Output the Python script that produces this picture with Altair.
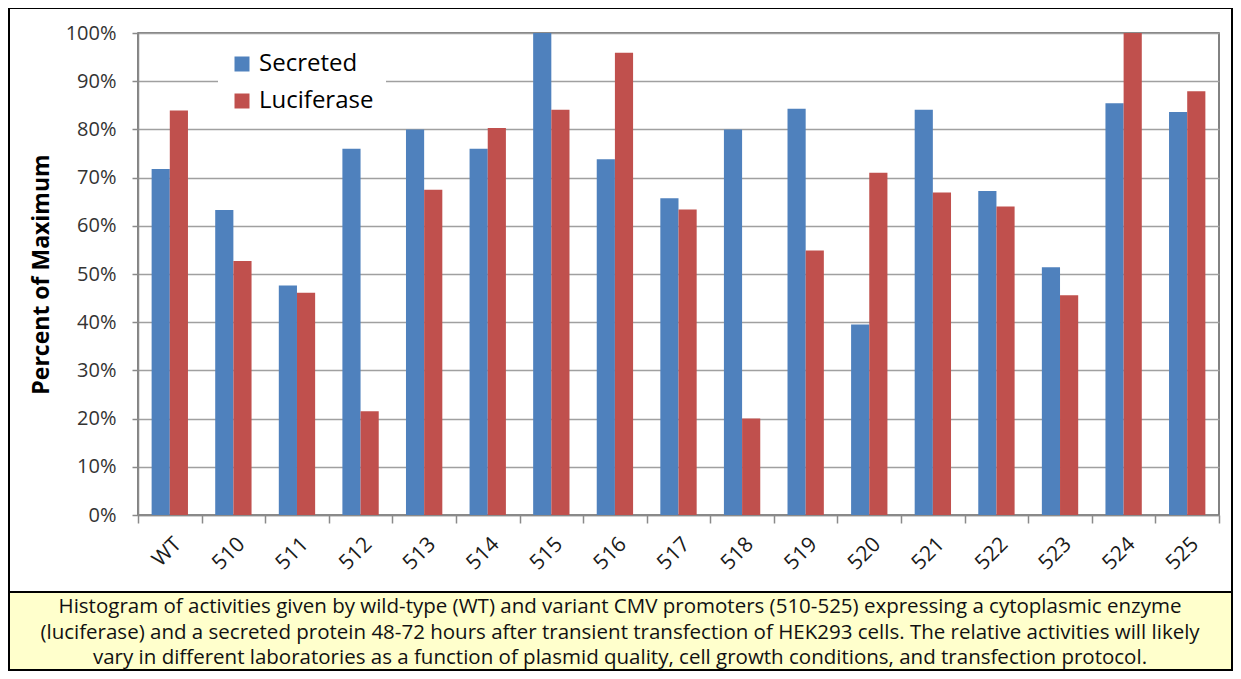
import altair as alt
import pandas as pd

categories = ["WT", "510", "511", "512", "513", "514", "515", "516", "517",
              "518", "519", "520", "521", "522", "523", "524", "525"]
secreted = [71.8, 63.3, 47.6, 76.0, 80.0, 76.0, 100.0, 73.8, 65.7,
            80.0, 84.3, 39.5, 84.1, 67.2, 51.4, 85.4, 83.6]
luciferase = [83.9, 52.7, 46.1, 21.5, 67.5, 80.3, 84.1, 95.9, 63.4,
              20.0, 54.9, 71.0, 66.9, 64.0, 45.6, 100.0, 87.9]
series_names = ["Secreted", "Luciferase"]
series_colors = ["#4F81BD", "#C0504D"]
y_ticks = [0, 10, 20, 30, 40, 50, 60, 70, 80, 90, 100]
y_title = "Percent of Maximum"
caption_lines = [
    "Histogram of activities given by wild-type (WT) and variant CMV promoters (510-525) expressing a cytoplasmic enzyme",
    "(luciferase) and a secreted protein 48-72 hours after transient transfection of HEK293 cells. The relative activities will likely",
    "vary in different laboratories as a function of plasmid quality, cell growth conditions, and transfection protocol.",
]

rows = []
for c, s, l in zip(categories, secreted, luciferase):
    rows.append({"cat": c, "series": series_names[0], "value": s})
    rows.append({"cat": c, "series": series_names[1], "value": l})
df = pd.DataFrame(rows)

W, H = 1081, 482
FONT = "Open Sans"

dummy = pd.DataFrame({"k": [0]})
cap_df = pd.DataFrame({"caption": ["\n".join(caption_lines)]})

caption_bg = alt.Chart(dummy).mark_rect(fill="#FFFFCC", strokeWidth=0).encode(
    x=alt.value(-128), x2=alt.value(1093), y=alt.value(560), y2=alt.value(636)
)
frame = alt.Chart(dummy).mark_rect(fillOpacity=0, stroke="black", strokeWidth=2).encode(
    x=alt.value(-129), x2=alt.value(1094), y=alt.value(-25), y2=alt.value(637)
)
separator = alt.Chart(dummy).mark_rule(stroke="black", strokeWidth=2).encode(
    x=alt.value(-129), x2=alt.value(1094), y=alt.value(559)
)
caption = alt.Chart(cap_df).mark_text(
    lineBreak="\n", lineHeight=25.5, font=FONT, fontSize=20.5, color="#111",
    align="center", baseline="middle"
).encode(
    text="caption:N", x=alt.value(482), y=alt.value(574)
)

bars = alt.Chart(df).mark_bar().encode(
    x=alt.X("cat:N", sort=categories,
            scale=alt.Scale(paddingInner=0, paddingOuter=0),
            axis=alt.Axis(title=None, labelAngle=-45, tickBand="extent",
                          tickSize=8, labelPadding=10, labelFontSize=21,
                          labelFont=FONT, labelColor="#1a1a1a",
                          domainColor="#8a8a8a", tickColor="#8a8a8a",
                          domainWidth=1.5, tickWidth=1.5, grid=False)),
    xOffset=alt.XOffset("series:N", sort=series_names,
                        scale=alt.Scale(paddingInner=0, paddingOuter=0.75)),
    y=alt.Y("value:Q", scale=alt.Scale(domain=[0, 100], nice=False),
            axis=alt.Axis(values=y_ticks, labelExpr="datum.value + '%'",
                          title=y_title, titleFont=FONT, titleFontSize=23,
                          titleFontWeight="bold", titleColor="black",
                          titleAngle=270, titleX=-97, titleY=H / 2,
                          titleAlign="center", titleBaseline="middle",
                          tickSize=6, labelPadding=16, labelFontSize=20,
                          labelFont=FONT, labelColor="#333",
                          domainColor="#8a8a8a", tickColor="#8a8a8a",
                          domainWidth=1.5, tickWidth=1.5,
                          grid=True, gridColor="#a0a0a0", gridWidth=1.5)),
    color=alt.Color("series:N", sort=series_names,
                    scale=alt.Scale(domain=series_names, range=series_colors),
                    legend=alt.Legend(title=None, orient="none", legendX=80, legendY=7,
                                      fillColor="white", padding=12,
                                      symbolType="square", symbolSize=225,
                                      symbolStrokeWidth=0, labelFont=FONT,
                                      labelFontSize=24, labelColor="black",
                                      labelOffset=5, rowPadding=13)),
)

chart = alt.layer(caption_bg, frame, separator, caption, bars).properties(
    width=W, height=H,
    autosize=alt.AutoSizeParams(type="none"),
    padding={"left": 130, "top": 25, "right": 14, "bottom": 156},
).configure_view(stroke="#5a5a5a", strokeWidth=1.5)

chart.save("out.html", embed_options={"renderer": "svg", "actions": False})
